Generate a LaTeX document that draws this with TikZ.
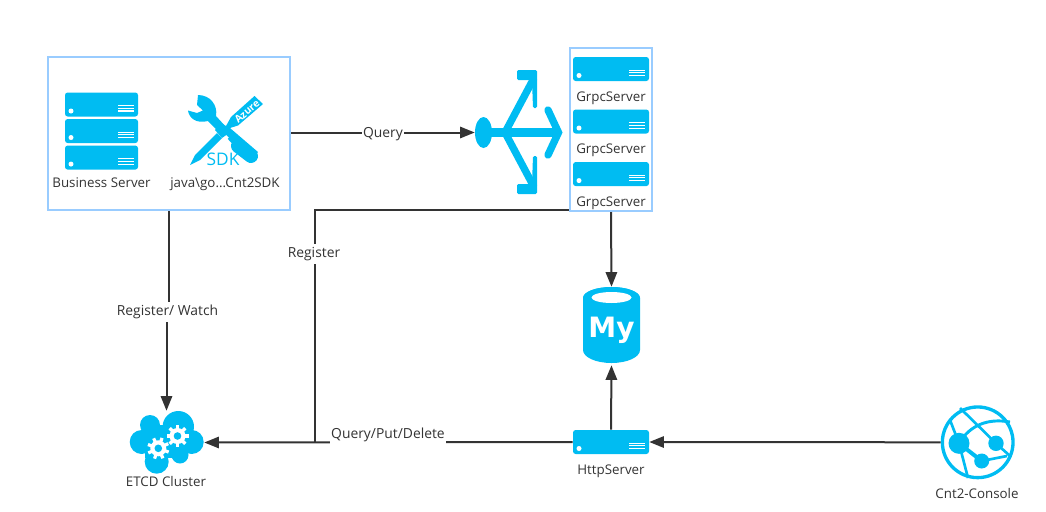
\documentclass[tikz,border=0pt]{standalone}
\usepackage{fontspec}
\setmainfont{Open Sans}
\newfontfamily\heavyFont{DejaVu Sans}
\usetikzlibrary{positioning,arrows.meta,shapes.geometric,calc}
\definecolor{textColor}{RGB}{51,51,51}
\definecolor{iconColor}{RGB}{0,188,242}
\definecolor{groupColor}{RGB}{153,204,255}

\begin{document}
\begin{tikzpicture}[x=.75pt,y=-.75pt,textColor,font=\fontsize{10pt}{11pt}\selectfont]
    \tikzstyle{group} = [rectangle,draw=groupColor,line width=1.5pt,inner sep=0pt]
    \tikzstyle{rack} = [rectangle,fill=iconColor,rounded corners=2pt,inner sep=0pt,minimum width=#1,minimum height=18pt,
      path picture={
        \fill[white] ([shift={(6,-5.5)}]path picture bounding box.south west) circle (2.5);
        \foreach \h in {5.5,8.2,10.9}
          \draw[white,line width=.8pt] ([shift={(-20,-\h)}]path picture bounding box.south east) -- ([shift={(-4,-\h)}]path picture bounding box.south east);
      }]
    \tikzstyle{caption} = [inner sep=0pt,text height=7.5pt,text depth=2pt,text=textColor]
    \tikzstyle{linkLabel} = [fill=white,inner ysep=3pt,inner xsep=.8pt,text height=7.5pt,text depth=2pt,text=textColor,font=\fontsize{10.4pt}{11pt}\selectfont]
    \tikzstyle{link} = [draw=textColor,line width=1.5pt]
    \tikzset{>={Triangle[length=11pt,width=8.5pt]}}
    \useasboundingbox (0,0) rectangle (1046,511);

    % left group
    \node [group, minimum width=181.5pt, minimum height=114.75pt] (bizGroup) at (169,133.5) {};
    \node [rack=54.75pt] (bizA) at (101.5,104.5) {};
    \node [rack=54.75pt, below=1.5pt of bizA] (bizB) {};
    \node [rack=54.75pt, below=1.5pt of bizB] (bizC) {};
    \node [caption, below=5.2pt of bizC] (bizLabel) {Business Server};

    % sdk icon
    \fill[iconColor] (188,110.5) .. controls (189,118) and (196,124) .. (208,121) -- (221,134) -- (227,128) -- (216,116)
      .. controls (218,105) and (210,95) .. (198,95) -- (197,105) -- (203,110.5) -- (197,113) -- cycle;
    \fill[iconColor] (222,133) -- (230,128) -- (258,152) -- (250,162) -- cycle;
    \draw[iconColor,line width=10.5pt,line cap=round] (238,146) -- (251,156);
    \draw[white,line width=10pt] (198,160) -- (224,133);
    \fill[iconColor] (190,165) -- (195,155) -- (217,133) -- (222,138) -- (200,160) -- cycle;
    \fill[iconColor] (215,130) -- (221,123) -- (226,126) -- (231,117) -- (254.5,96) -- (263,104) -- (238,125.5) -- (230,128) -- (229,133) -- (222,138) -- cycle;
    \node [white, rotate=41, inner sep=0pt, font=\fontsize{7.6pt}{8pt}\selectfont\bfseries] (azureText) at (247,111.5) {Azure};
    \node [iconColor, inner sep=0pt, font=\fontsize{13pt}{14pt}\selectfont] (sdkText) at (223,159.5) {SDK};
    \node [caption] (sdkLabel) at (225,184) {java\textbackslash go...Cnt2SDK};

    % router icon
    \node [ellipse, fill=iconColor, inner sep=0pt, minimum width=12.75pt, minimum height=23.25pt] (routerHub) at (483.5,132.5) {};
    \draw[iconColor,line width=6.5pt] (490,132.5) -- (556,132.5);
    \draw[iconColor,line width=5.5pt,line cap=round,line join=miter] (548,110) -- (558.5,132.5) -- (548,155);
    \draw[iconColor,line width=5.5pt] (505,132.5) -- (534,78);
    \draw[iconColor,line width=5.5pt] (505,132.5) -- (534,187);
    \fill[iconColor,rounded corners=1pt] (517,70) -- (537,70) -- (537,108) -- (533,108) -- (532,80) -- (517,80) -- cycle;
    \fill[iconColor,rounded corners=1pt] (517,194) -- (537,194) -- (537,156) -- (533,156) -- (532,184) -- (517,184) -- cycle;

    % grpc group
    \node [group, minimum width=61.5pt, minimum height=122.25pt] (grpcGroup) at (611,129.5) {};
    \node [rack=57pt] (grpcA) at (611,69) {};
    \node [caption, below=7.2pt of grpcA] (grpcLabelA) {GrpcServer};
    \node [rack=57pt, below=21pt of grpcA] (grpcB) {};
    \node [caption, below=7.2pt of grpcB] (grpcLabelB) {GrpcServer};
    \node [rack=57pt, below=21pt of grpcB] (grpcC) {};
    \node [caption, below=7.2pt of grpcC] (grpcLabelC) {GrpcServer};

    % mysql icon
    \node [inner sep=0pt, minimum width=42.75pt, minimum height=58.5pt] (mysqlDb) at (611.5,326) {};
    \fill[iconColor] (583,298) arc[x radius=28.5,y radius=11,start angle=180,end angle=360] -- (640,350)
      arc[x radius=28.5,y radius=13,start angle=0,end angle=180] -- cycle;
    \fill[iconColor] (611.5,298) ellipse[x radius=28.5,y radius=11];
    \fill[white] (611.5,297.5) ellipse[x radius=20,y radius=5.5];
    \node [white, inner sep=0pt, font=\fontsize{21pt}{21pt}\heavyFont\bfseries] (mysqlText) at (611.5,330) {My};

    % http server
    \node [rack=57pt] (httpServer) at (611,442) {};
    \node [caption, below=7.6pt of httpServer] (httpLabel) {HttpServer};

    % etcd cloud
    \node [inner sep=0pt, minimum width=56.25pt, minimum height=47.25pt] (etcd) at (166.5,442.5) {};
    \fill[iconColor] (178.3,426.7) circle (15.7) (141.7,442) circle (12) (150,425) circle (10) (156.7,461.7) circle (12)
      (180,455) circle (8.5) (191.7,442) circle (12);
    \fill[iconColor] (145,425) rectangle (188,458);
    \foreach \gx/\gy/\turn in {158.3/448.3/20,177.5/436/0} {
      \foreach \a in {0,45,...,315}
        \draw[white,line width=2.4pt] (\gx,\gy) -- ++(\a+\turn:11);
      \fill[white] (\gx,\gy) circle (8);
      \fill[iconColor] (\gx,\gy) circle (3.8);
    }
    \node [caption] (etcdLabel) at (166,483) {ETCD Cluster};

    % console globe
    \node [circle, draw=iconColor, line width=2.5pt, inner sep=0pt, minimum size=53pt] (console) at (977.7,442.3) {};
    \draw[iconColor,line width=2pt] (960,408) -- (996,443.3) -- (1010,456);
    \draw[iconColor,line width=2pt] (950,420) -- (959,443.3) -- (968,478);
    \draw[iconColor,line width=2.2pt] (959,443.3) .. controls (970,425) and (988,418) .. (1010,422);
    \draw[iconColor,line width=3pt] (959,443.3) -- (981.7,461);
    \draw[iconColor,line width=2pt] (981.7,461) -- (1007,456);
    \fill[iconColor] (959,443.3) circle (10.5) (996,443.3) circle (7.7) (981.7,461) circle (7.5);
    \node [caption] (consoleLabel) at (977,495) {Cnt2-Console};

    % connectors
    \coordinate (regTurn) at (315,210);
    \coordinate (regDown) at (315,442);
    \path [link,->] (routerHub.west -| bizGroup.east) -- (routerHub.west);
    \path [link,->] (bizGroup.south) -- (bizGroup.south |- 0,311) -- (etcd.north |- 0,311) -- (etcd.north);
    \path [link] (grpcGroup.west |- regTurn) -- (regTurn) -- (regDown);
    \path [link,->] (httpServer.west) -- (etcd.east);
    \path [link,->] (grpcGroup.south) -- (mysqlDb.north);
    \path [link,->] (httpServer.north) -- (mysqlDb.south);
    \path [link,->] (console.west) -- (httpServer.east);

    \node [linkLabel] (queryLabel) at (383,134) {Query};
    \node [linkLabel] (watchLabel) at (167.5,312) {Register/ Watch};
    \node [linkLabel] (registerLabel) at (314,254) {Register};
    \node [linkLabel] (putLabel) at (388,435) {Query/Put/Delete};

\end{tikzpicture}
\end{document}
